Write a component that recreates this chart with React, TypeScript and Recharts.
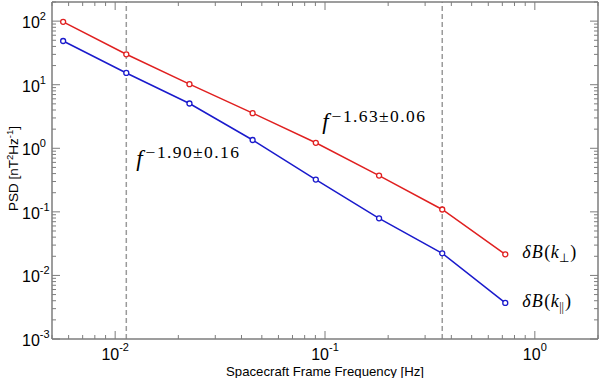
import React from 'react';
import {
  LineChart,
  Line,
  XAxis,
  YAxis,
  ReferenceLine,
  ReferenceDot,
  LabelList,
} from 'recharts';

// ---- data ----
const frequencies = [0.00565, 0.0113, 0.0226, 0.0452, 0.0904, 0.181, 0.362, 0.723];
const psdPerp = [97.5, 30.1, 10.2, 3.57, 1.22, 0.372, 0.109, 0.0215];
const psdPar = [48.7, 15.3, 5.06, 1.35, 0.322, 0.079, 0.0223, 0.0037];
const breakFrequencies = [0.0113, 0.362];
const xMajorTicks = [0.01, 0.1, 1];
const yMajorTicks = [0.001, 0.01, 0.1, 1, 10, 100];
const xDomain: [number, number] = [0.005, 2];
const yDomain: [number, number] = [0.001, 200];
const fitPerpLabel = '−1.63±0.06';
const fitParLabel = '−1.90±0.16';
const fitPerpAnchor = { f: 0.097, psd: 2.0 };
const fitParAnchor = { f: 0.0126, psd: 0.53 };

const data = frequencies.map((f, i) => ({ f, perp: psdPerp[i], par: psdPar[i] }));

const RED = '#e02020';
const BLUE = '#1a1acc';
const AXIS = '#7d7d7d';
const SANS = "'Liberation Sans', Arial, Helvetica, sans-serif";
const SERIF = "'Liberation Serif', 'Times New Roman', serif";

const withMinors = (majors: number[], domain: [number, number]) => {
  const out: number[] = [];
  majors.forEach((m) => {
    for (let k = 1; k <= 9; k++) out.push(m * k);
    for (let k = 1; k <= 9; k++) out.push((m / 10) * k);
  });
  const uniq = Array.from(new Set(out.map((v) => +v.toPrecision(6))));
  return uniq.filter((v) => v >= domain[0] && v <= domain[1]).sort((a, b) => a - b);
};

const xTicks = withMinors(xMajorTicks, xDomain);
const yTicks = withMinors(yMajorTicks, yDomain);

const isMajor = (v: number) => {
  const l = Math.log10(v);
  return Math.abs(l - Math.round(l)) < 1e-6;
};
const expOf = (v: number) => Math.round(Math.log10(v));
const expText = (e: number) => (e < 0 ? '-' + Math.abs(e) : String(e));

const MAJ = 8;
const MIN = 4;

const XTickBottom = (props: any) => {
  const { x, y, payload } = props;
  const v = payload.value;
  const major = isMajor(v);
  return (
    <g>
      <line x1={x} y1={y} x2={x} y2={y - (major ? MAJ : MIN)} stroke={AXIS} strokeWidth={1} />
      {major && (
        <text x={x} y={y + 21} textAnchor="middle" fontFamily={SANS} fontSize={16} fill="#000">
          10
          <tspan dy={-9} fontSize={11}>
            {expText(expOf(v))}
          </tspan>
        </text>
      )}
    </g>
  );
};

const XTickTop = (props: any) => {
  const { x, y, payload } = props;
  const major = isMajor(payload.value);
  return <line x1={x} y1={y} x2={x} y2={y + (major ? MAJ : MIN)} stroke={AXIS} strokeWidth={1} />;
};

const YTickLeft = (props: any) => {
  const { x, y, payload } = props;
  const v = payload.value;
  const major = isMajor(v);
  return (
    <g>
      <line x1={x} y1={y} x2={x + (major ? MAJ : MIN)} y2={y} stroke={AXIS} strokeWidth={1} />
      {major && (
        <text x={22} y={y + 7} textAnchor="start" fontFamily={SANS} fontSize={16} fill="#000">
          10
          <tspan dy={-8} fontSize={11}>
            {expText(expOf(v))}
          </tspan>
        </text>
      )}
    </g>
  );
};

const YTickRight = (props: any) => {
  const { x, y, payload } = props;
  const major = isMajor(payload.value);
  return <line x1={x} y1={y} x2={x - (major ? MAJ : MIN)} y2={y} stroke={AXIS} strokeWidth={1} />;
};

const FitLabel = (text: string) => (props: any) => {
  const { cx, cy } = props;
  return (
    <text x={cx} y={cy} fontFamily={SERIF} fill="#000">
      <tspan fontStyle="italic" fontSize={23}>
        f
      </tspan>
      <tspan dx={3} dy={-7.5} fontSize={17.5} letterSpacing={1.4}>
        {text}
      </tspan>
    </text>
  );
};

const seriesLabel = (sub: string, last: number) => (props: any) => {
  const { x, y, index } = props;
  if (index !== last) return null;
  return (
    <text x={x + 17} y={y + 4} fontFamily={SERIF} fontSize={18} fill="#000">
      <tspan fontStyle="italic">δ</tspan>
      <tspan fontStyle="italic" dx={1}>B</tspan>
      <tspan dx={1.5}>(</tspan>
      <tspan fontStyle="italic" dx={0.5}>k</tspan>
      <tspan dy={4} dx={0.5} fontSize={12}>
        {sub}
      </tspan>
      <tspan dy={-4} dx={1}>)</tspan>
    </text>
  );
};

const XTitle = (props: any) => {
  const vb = props.viewBox || { x: 52, y: 339, width: 546 };
  return (
    <text x={vb.x + vb.width / 2} y={376} textAnchor="middle" fontFamily={SANS} fontSize={13.2} fill="#000">
      Spacecraft Frame Frequency [Hz]
    </text>
  );
};

const YTitle = (props: any) => {
  const vb = props.viewBox || { x: 52, y: 2, height: 337 };
  const cy = vb.y + vb.height / 2 - 2;
  const cx = 17.5;
  return (
    <text x={cx} y={cy} transform={`rotate(-90, ${cx}, ${cy})`} textAnchor="middle" fontFamily={SANS} fontSize={13.5} fill="#000">
      PSD [nT
      <tspan dy={-5} fontSize={9.5}>2</tspan>
      <tspan dy={5}>Hz</tspan>
      <tspan dy={-5} fontSize={9.5}>-1</tspan>
      <tspan dy={5}>]</tspan>
    </text>
  );
};

export default function App() {
  const last = data.length - 1;
  return (
    <div style={{ position: 'absolute', left: 0, top: 0, width: 600, height: 378, background: '#fff' }}>
      <LineChart width={600} height={378} data={data} margin={{ top: 1, right: 1, bottom: 38, left: 51 }}>
        <XAxis
          xAxisId="bottom"
          dataKey="f"
          type="number"
          scale="log"
          domain={xDomain}
          allowDataOverflow
          ticks={xTicks}
          interval={0}
          height={1}
          tickSize={0}
          tickMargin={0}
          tick={<XTickBottom />}
          axisLine={{ stroke: AXIS, strokeWidth: 1.5 }}
          tickLine={false}
          label={{ content: <XTitle /> }}
        />
        <XAxis
          xAxisId="top"
          orientation="top"
          dataKey="f"
          type="number"
          scale="log"
          domain={xDomain}
          allowDataOverflow
          ticks={xTicks}
          interval={0}
          height={1}
          tickSize={0}
          tickMargin={0}
          tick={<XTickTop />}
          axisLine={{ stroke: AXIS, strokeWidth: 1.5 }}
          tickLine={false}
        />
        <YAxis
          yAxisId="left"
          type="number"
          scale="log"
          domain={yDomain}
          allowDataOverflow
          ticks={yTicks}
          interval={0}
          width={1}
          tickSize={0}
          tickMargin={0}
          tick={<YTickLeft />}
          axisLine={{ stroke: AXIS, strokeWidth: 1.5 }}
          tickLine={false}
          label={{ content: <YTitle /> }}
        />
        <YAxis
          yAxisId="right"
          orientation="right"
          type="number"
          scale="log"
          domain={yDomain}
          allowDataOverflow
          ticks={yTicks}
          interval={0}
          width={1}
          tickSize={0}
          tickMargin={0}
          tick={<YTickRight />}
          axisLine={{ stroke: AXIS, strokeWidth: 1.5 }}
          tickLine={false}
        />
        {breakFrequencies.map((bf) => (
          <ReferenceLine
            key={bf}
            x={bf}
            xAxisId="bottom"
            yAxisId="left"
            stroke="#9a9a9a"
            strokeWidth={1.5}
            strokeDasharray="5 3"
          />
        ))}
        <Line
          xAxisId="bottom"
          yAxisId="left"
          dataKey="perp"
          stroke={RED}
          strokeWidth={1.5}
          dot={{ r: 2.5, stroke: RED, strokeWidth: 1.3, fill: '#fff' }}
          isAnimationActive={false}
        >
          <LabelList dataKey="perp" content={seriesLabel('⊥', last)} />
        </Line>
        <Line
          xAxisId="bottom"
          yAxisId="left"
          dataKey="par"
          stroke={BLUE}
          strokeWidth={1.5}
          dot={{ r: 2.5, stroke: BLUE, strokeWidth: 1.3, fill: '#fff' }}
          isAnimationActive={false}
        >
          <LabelList dataKey="par" content={seriesLabel('||', last)} />
        </Line>
        <ReferenceDot
          xAxisId="bottom"
          yAxisId="left"
          x={fitPerpAnchor.f}
          y={fitPerpAnchor.psd}
          r={0}
          shape={FitLabel(fitPerpLabel)}
        />
        <ReferenceDot
          xAxisId="bottom"
          yAxisId="left"
          x={fitParAnchor.f}
          y={fitParAnchor.psd}
          r={0}
          shape={FitLabel(fitParLabel)}
        />
      </LineChart>
    </div>
  );
}
